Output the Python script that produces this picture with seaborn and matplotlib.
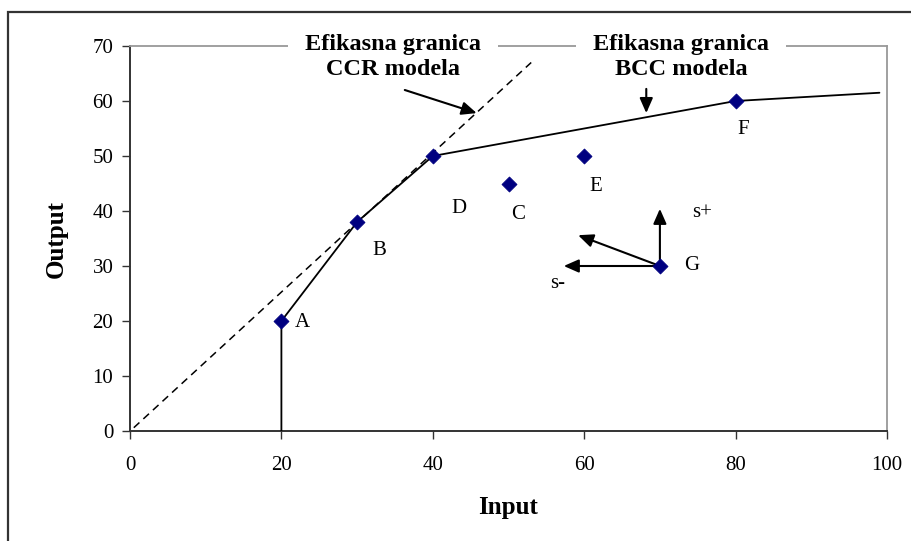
import numpy as np
import pandas as pd
import matplotlib.pyplot as plt
import seaborn as sns
from matplotlib.patches import Rectangle

# DMU points
names = ["A", "B", "C", "D", "E", "F", "G"]
inputs = [20, 30, 50, 40, 60, 80, 70]
outputs = [20, 38, 45, 50, 50, 60, 30]
# label positions (data units)
label_x = [21.8, 32.0, 50.4, 42.5, 60.7, 80.2, 73.2]
label_y = [19.8, 32.9, 39.3, 40.4, 44.4, 54.9, 30.0]

# BCC frontier (solid) and CCR frontier (dashed)
bcc_x = [20, 20, 30, 40, 80, 99]
bcc_y = [0, 20, 38, 50, 60, 61.5]
ccr_x = [0.5, 53]
ccr_y = [0.6, 67]

# arrows from G: (x_end, y_end)
g_arrow_x = [70, 57.3, 59.2]
g_arrow_y = [40.4, 30, 35.6]

sns.set_style("white")
plt.rcParams["font.family"] = ["Liberation Serif", "DejaVu Serif"]
plt.rcParams["text.color"] = "black"
plt.rcParams["axes.labelcolor"] = "black"
plt.rcParams["xtick.color"] = "black"
plt.rcParams["ytick.color"] = "black"

fig = plt.figure(figsize=(9.11, 5.41), dpi=100)
ax = fig.add_axes([130 / 911, 1 - 431 / 541, 757 / 911, 385 / 541])

fig.patches.append(Rectangle((8 / 911, -0.1), 1.2, (541 - 12) / 541 + 0.1,
                             transform=fig.transFigure, fill=False,
                             edgecolor="#333333", linewidth=1.6))

sns.lineplot(x=bcc_x, y=bcc_y, sort=False, estimator=None, color="black",
             linewidth=1.3, ax=ax, zorder=3)
sns.lineplot(x=ccr_x, y=ccr_y, sort=False, estimator=None, color="black",
             linewidth=1.1, linestyle=(0, (5, 3.5)), ax=ax, zorder=3)

df = pd.DataFrame({"Input": inputs, "Output": outputs, "name": names})
sns.scatterplot(data=df, x="Input", y="Output", marker="D", s=58,
                color="#000080", edgecolor="#000080", ax=ax, zorder=4)

for n, lx, ly in zip(names, label_x, label_y):
    ax.text(lx, ly, n, fontsize=15, ha="left", va="center", zorder=5)

arrow_kw = dict(arrowstyle="-|>,head_length=0.5,head_width=0.22", color="black",
                lw=1.5, mutation_scale=18, shrinkA=0, shrinkB=0)
for ex, ey in zip(g_arrow_x, g_arrow_y):
    ax.annotate("", xy=(ex, ey), xytext=(70, 30), arrowprops=arrow_kw, zorder=3)
ax.text(74.3, 39.8, "s+", fontsize=15, ha="left", va="center")
ax.text(56.5, 26.9, "s-", fontsize=15, ha="center", va="center")

ax.annotate("", xy=(45.8, 57.8), xytext=(36.3, 62), arrowprops=arrow_kw, zorder=3)
ax.annotate("", xy=(68.2, 57.8), xytext=(68.2, 62.2), arrowprops=arrow_kw, zorder=3)

box = dict(boxstyle="square,pad=0.7", facecolor="white", edgecolor="none")
ax.text(34.8, 68.0, "Efikasna granica\nCCR modela", fontsize=17.5,
        fontweight="bold", ha="center", va="center", linespacing=1.3,
        bbox=box, zorder=2.6, clip_on=False)
ax.text(72.8, 68.0, "Efikasna granica\nBCC modela", fontsize=17.5,
        fontweight="bold", ha="center", va="center", linespacing=1.3,
        bbox=box, zorder=2.6, clip_on=False)

ax.set_xlim(0, 100)
ax.set_ylim(0, 70)
ax.set_xticks(np.arange(0, 101, 20))
ax.set_yticks(np.arange(0, 71, 10))
ax.tick_params(axis="both", direction="out", length=6, width=1,
               labelsize=15, color="#333333", bottom=True, left=True)
ax.tick_params(axis="x", pad=12)
ax.tick_params(axis="y", pad=6)

for side in ["top", "right"]:
    ax.spines[side].set_color("#999999")
    ax.spines[side].set_linewidth(1.3)
for side in ["left", "bottom"]:
    ax.spines[side].set_color("#333333")
    ax.spines[side].set_linewidth(1.4)

ax.set_xlabel("Input", fontsize=18, fontweight="bold", labelpad=15)
ax.set_ylabel("Output", fontsize=18, fontweight="bold", labelpad=18)

fig.savefig("out.png", dpi=100)
